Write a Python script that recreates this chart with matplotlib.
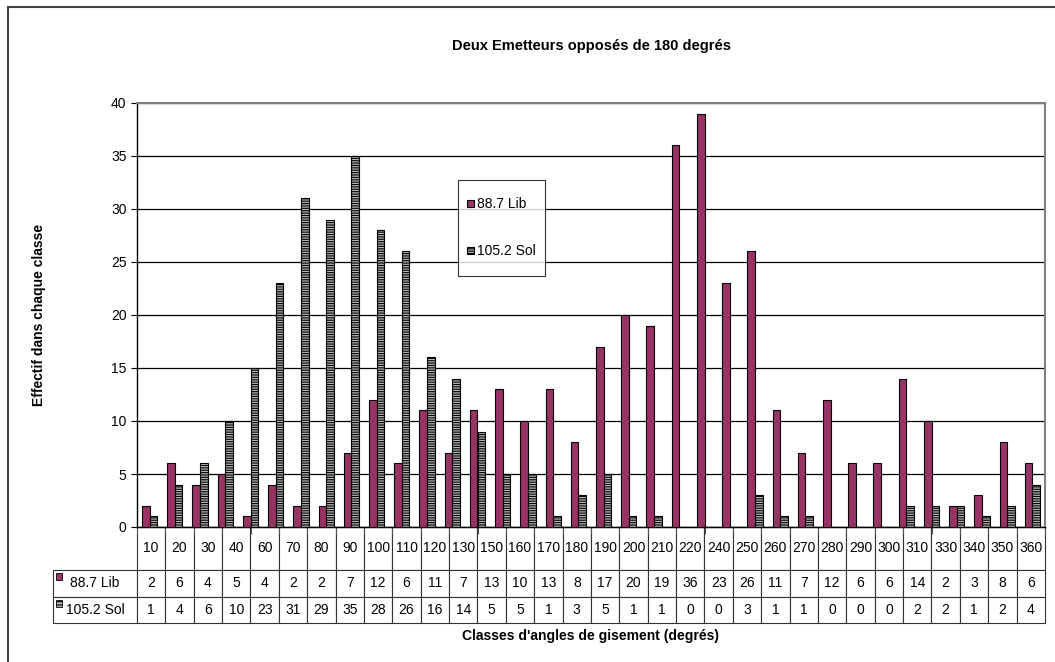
import matplotlib.pyplot as plt
import numpy as np
from matplotlib.patches import Rectangle
from matplotlib.legend_handler import HandlerPatch, update_from_first_child

plt.rcParams['font.family'] = ['Liberation Sans', 'DejaVu Sans']
plt.rcParams['hatch.linewidth'] = 0.8

# bars: 36 classes of 10 degrees, as drawn in the chart
lib_bars = [2, 6, 4, 5, 1, 4, 2, 2, 7, 12, 6, 11, 7, 11, 13, 10, 13, 8,
            17, 20, 19, 36, 39, 23, 26, 11, 7, 12, 6, 6, 14, 10, 2, 3, 8, 6]
sol_bars = [1, 4, 6, 10, 15, 23, 31, 29, 35, 28, 26, 16, 14, 9, 5, 5, 1, 3,
            5, 1, 1, 0, 0, 0, 3, 1, 1, 0, 0, 0, 2, 2, 2, 1, 2, 4]

# data table below the chart (as printed)
classes = ["10", "20", "30", "40", "60", "70", "80", "90", "100", "110", "120",
           "130", "150", "160", "170", "180", "190", "200", "210", "220", "240",
           "250", "260", "270", "280", "290", "300", "310", "330", "340", "350", "360"]
lib_tab = [2, 6, 4, 5, 4, 2, 2, 7, 12, 6, 11, 7, 13, 10, 13, 8, 17, 20, 19, 36,
           23, 26, 11, 7, 12, 6, 6, 14, 2, 3, 8, 6]
sol_tab = [1, 4, 6, 10, 23, 31, 29, 35, 28, 26, 16, 14, 5, 5, 1, 3, 5, 1, 1, 0,
           0, 3, 1, 1, 0, 0, 0, 2, 2, 1, 2, 4]

lib_color = "#993366"
sol_color = "#b4b4b4"

fig = plt.figure(figsize=(10.55, 6.62), dpi=100)
ax = fig.add_axes([137/1055, 1-527/662, 908/1055, 424/662])

x = np.arange(len(lib_bars))
w = 0.3
b1 = ax.bar(x - w/2, lib_bars, w, color=lib_color, edgecolor="black", linewidth=0.8,
            label="88.7 Lib", zorder=3)
b2 = ax.bar(x + w/2, sol_bars, w, color=sol_color, edgecolor="black", linewidth=0.8,
            hatch="-------", label="105.2 Sol", zorder=3)

ax.set_xlim(-0.5, len(lib_bars) - 0.5)
ax.set_ylim(0, 40)
ax.set_yticks(range(0, 41, 5))
ax.yaxis.grid(True, color="black", linewidth=0.9)
ax.set_axisbelow(True)
ax.tick_params(axis="y", labelsize=10, length=4, width=0.8)

# x ticks at the table column edges
ax.set_xticks(np.linspace(-0.5, len(lib_bars) - 0.5, len(classes) + 1))
ax.set_xticklabels([])
ax.tick_params(axis="x", length=5, width=0.8, color="#555555")

for s in ["top", "right"]:
    ax.spines[s].set_color("#808080")
    ax.spines[s].set_linewidth(1.5)
ax.spines["left"].set_linewidth(1.0)
ax.spines["bottom"].set_linewidth(1.0)

ax.set_ylabel("Effectif dans chaque classe", fontsize=10, fontweight="bold", labelpad=47)
ax.set_title("Deux Emetteurs opposés de 180 degrés", fontsize=10.5, fontweight="bold", pad=38)

# data table
cell_text = [["88.7 Lib"] + [str(v) for v in lib_tab],
             ["105.2 Sol"] + [str(v) for v in sol_tab]]
tab = ax.table(cellText=cell_text, colLabels=[""] + classes, cellLoc="center",
               bbox=[-84/908, -96/424, 992/908, 96/424])
tab.auto_set_font_size(False)
tab.set_fontsize(10)
for (r, c), cell in tab.get_celld().items():
    cell.set_width(84 if c == 0 else 28.4)
    cell.set_height(43 if r == 0 else 26.5)
    cell.set_linewidth(0.8)
    cell.set_edgecolor("#333333")
    if c == 0:
        cell._loc = "left"
        cell.PAD = 0.18
    if r == 0 and c == 0:
        cell.set_visible(False)

# small legend keys in the table row labels
fig.patches.append(Rectangle((56/1055, 1-580/662), 6/1055, 7/662, transform=fig.transFigure,
                             facecolor=lib_color, edgecolor="black", linewidth=0.6))
fig.patches.append(Rectangle((56/1055, 1-607/662), 6/1055, 7/662, transform=fig.transFigure,
                             facecolor=sol_color, edgecolor="black", linewidth=0.6, hatch="-----"))

fig.text(590/1055, 1-636/662, "Classes d'angles de gisement (degrés)", ha="center", va="center",
         fontsize=10, fontweight="bold")


def small_key(legend, orig_handle, xdescent, ydescent, width, height, fontsize):
    s = 0.5 * fontsize
    return Rectangle((-xdescent + (width - s) / 2, -ydescent + (height - s) / 2 + 1), s, s)


handler = HandlerPatch(patch_func=small_key, update_func=update_from_first_child)
leg = ax.legend(handles=[b1, b2], loc="upper left", bbox_to_anchor=(321/908, (527-180)/424),
                handler_map={type(b1): handler}, frameon=True, fancybox=False,
                edgecolor="black", fontsize=10, labelspacing=1.06,
                handlelength=0.6, handleheight=3.2, handletextpad=0.2, borderpad=0.6,
                borderaxespad=0)
leg.get_frame().set_linewidth(0.8)

# outer chart frame
fig.patches.append(Rectangle((8/1055, -0.5), 2, 1.5 - 7/662, transform=fig.transFigure,
                             facecolor="none", edgecolor="#444444", linewidth=1.5))

fig.savefig("out.png", dpi=100, facecolor="white")
